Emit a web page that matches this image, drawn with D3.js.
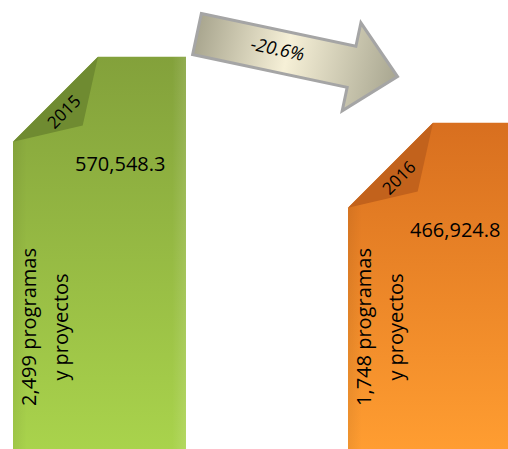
<!DOCTYPE html>
<html>
<head>
<meta charset="utf-8">
<script src="https://cdn.jsdelivr.net/npm/d3@7/dist/d3.min.js"></script>
<style>
  html, body { margin: 0; padding: 0; background: #fff; }
  svg { display: block; font-family: "Open Sans", sans-serif; }
</style>
</head>
<body>
<svg id="chart" width="508" height="449"></svg>
<script>
const years = ["2015", "2016"];
const amounts = [570548.3, 466924.8];
const programCounts = ["2,499", "1,748"];
const programLines = ["programas", "y proyectos"];
const changeLabel = "-20.6%";
const barColors = [
  { top: "#83a13b", bottom: "#a9d34c", flap: "#6f8b31" },
  { top: "#d86f1f", bottom: "#ff9d31", flap: "#c2621c" },
];

const width = 508;
const height = 449;
const fold = 85;

const svg = d3.select("#chart");
const defs = svg.append("defs");

const x = d3.scaleBand().domain(years).range([13, 521]).paddingInner(0.4836);
const y = d3.scaleLinear().domain([0, 600000]).range([420, 38]);

const data = years.map((year, i) => ({
  year,
  amount: amounts[i],
  count: programCounts[i],
  colors: barColors[i],
}));

data.forEach((d, i) => {
  const g = defs.append("linearGradient").attr("id", `bar-grad-${i}`)
    .attr("x1", 0).attr("y1", 0).attr("x2", 0).attr("y2", 1);
  g.append("stop").attr("offset", "0%").attr("stop-color", d.colors.top);
  g.append("stop").attr("offset", "100%").attr("stop-color", d.colors.bottom);

  const e = defs.append("linearGradient").attr("id", `edge-grad-${i}`)
    .attr("x1", 0).attr("y1", 0).attr("x2", 1).attr("y2", 0);
  e.append("stop").attr("offset", "0%").attr("stop-color", "#000").attr("stop-opacity", 0.06);
  e.append("stop").attr("offset", "8%").attr("stop-color", "#000").attr("stop-opacity", 0);
  e.append("stop").attr("offset", "92%").attr("stop-color", "#fff").attr("stop-opacity", 0);
  e.append("stop").attr("offset", "100%").attr("stop-color", "#fff").attr("stop-opacity", 0.12);
});

const bars = svg.append("g")
  .selectAll("g")
  .data(data)
  .join("g");

function barPath(d) {
  const x0 = x(d.year);
  const x1 = x0 + x.bandwidth();
  const top = y(d.amount);
  return `M${x0},${top + fold}L${x0 + fold},${top}L${x1},${top}L${x1},${height}L${x0},${height}Z`;
}

bars.append("path")
  .attr("d", barPath)
  .attr("fill", (d, i) => `url(#bar-grad-${i})`);

bars.append("path")
  .attr("d", barPath)
  .attr("fill", (d, i) => `url(#edge-grad-${i})`);

// folded corner
bars.append("path")
  .attr("d", (d) => {
    const x0 = x(d.year);
    const top = y(d.amount);
    return `M${x0 + fold},${top}L${x0 + fold * 0.82},${top + fold * 0.81}L${x0},${top + fold}Z`;
  })
  .attr("fill", (d) => d.colors.flap);

bars.append("text")
  .attr("transform", (d) => `translate(${x(d.year) + 51},${y(d.amount) + 55}) rotate(-45)`)
  .attr("text-anchor", "middle")
  .attr("dy", "0.35em")
  .attr("font-size", 17)
  .attr("fill", "#000")
  .text((d) => d.year);

bars.append("text")
  .attr("x", (d) => x(d.year) + 62)
  .attr("y", (d) => y(d.amount) + 114)
  .attr("font-size", 20)
  .attr("fill", "#000")
  .text((d) => d3.format(",.1f")(d.amount));

const vert = bars.append("text")
  .attr("transform", (d) => `translate(${x(d.year) + 23},327) rotate(-90)`)
  .attr("text-anchor", "middle")
  .attr("font-size", 20)
  .attr("fill", "#000");

vert.append("tspan")
  .attr("x", 0)
  .attr("y", 0)
  .text((d) => `${d.count} ${programLines[0]}`);

vert.append("tspan")
  .attr("x", 0)
  .attr("y", 32)
  .text(programLines[1]);

// change arrow
const ag = defs.append("linearGradient").attr("id", "arrow-grad")
  .attr("x1", 0).attr("y1", 0).attr("x2", 1).attr("y2", 0);
ag.append("stop").attr("offset", "0%").attr("stop-color", "#a9a68f");
ag.append("stop").attr("offset", "45%").attr("stop-color", "#f6f0d7");
ag.append("stop").attr("offset", "100%").attr("stop-color", "#a8a690");

const shaft = 158;
const arrow = svg.append("g")
  .attr("transform", `translate(197,34) rotate(12)`);

arrow.append("path")
  .attr("d", `M0,-21L${shaft},-21L${shaft},-45L${shaft + 47},0L${shaft},45L${shaft},21L0,21Z`)
  .attr("fill", "url(#arrow-grad)")
  .attr("stroke", "#a5a5a5")
  .attr("stroke-width", 3)
  .attr("stroke-linejoin", "miter");

arrow.append("text")
  .attr("x", 82)
  .attr("y", -2)
  .attr("text-anchor", "middle")
  .attr("dy", "0.35em")
  .attr("font-size", 18)
  .attr("font-style", "italic")
  .attr("fill", "#000")
  .text(changeLabel);
</script>
</body>
</html>
